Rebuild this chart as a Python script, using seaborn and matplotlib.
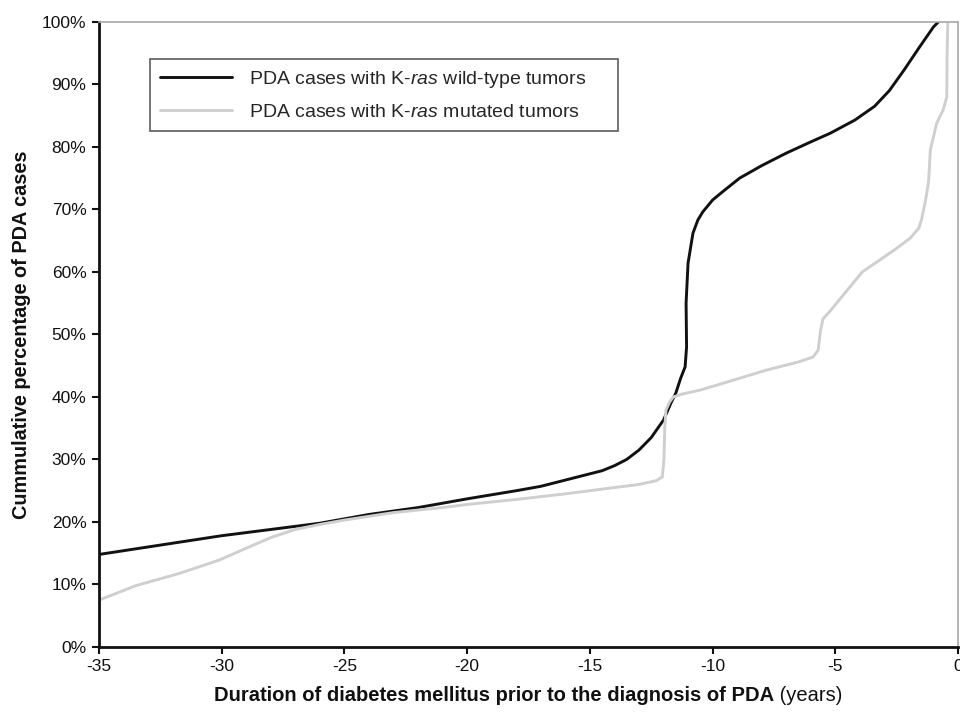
import matplotlib
matplotlib.use("Agg")
import matplotlib.pyplot as plt
import seaborn as sns
import pandas as pd
from matplotlib.ticker import PercentFormatter

# ---- data ----
wild_x = [-35, -33, -31, -30, -28, -26, -24, -22, -20, -18, -17, -16, -15, -14.5, -14, -13.5,
          -13, -12.5, -12, -11.7, -11.5, -11.3, -11.12, -11.06, -11.08, -11.0, -10.8, -10.6,
          -10.4, -10.0, -9.6, -8.9, -8, -7, -6, -5.2, -4.2, -3.4, -2.8, -2.2, -1.6, -1.0, -0.8]
wild_y = [14.8, 16.0, 17.2, 17.8, 18.8, 19.8, 21.2, 22.3, 23.7, 25.0, 25.7, 26.7, 27.7, 28.2,
          29.0, 30.0, 31.5, 33.5, 36.3, 39.0, 40.6, 43.0, 44.8, 48.0, 55.0, 61.4, 66.2, 68.3,
          69.6, 71.5, 72.8, 75.0, 77.0, 79.0, 80.8, 82.2, 84.3, 86.5, 89.0, 92.3, 95.8, 99.2, 100]

mut_x = [-35, -33.5, -31.7, -30.1, -29, -28, -27, -26, -25, -23, -21, -20, -18, -16, -15, -14,
         -13, -12.3, -12.05, -11.98, -11.95, -11.9, -11.75, -11.6, -11.2, -10.5, -9.4, -7.8,
         -6.5, -5.9, -5.7, -5.6, -5.5, -5.2, -4.7, -3.9, -2.6, -1.95, -1.6, -1.48, -1.3, -1.2,
         -1.13, -0.87, -0.6, -0.46, -0.45, -0.42]
mut_y = [7.5, 9.8, 11.8, 13.9, 15.8, 17.5, 18.8, 19.6, 20.3, 21.5, 22.3, 22.8, 23.6, 24.5, 25.0,
         25.5, 26.0, 26.6, 27.2, 30, 35, 37.9, 39.2, 40.0, 40.5, 41.1, 42.4, 44.3, 45.6, 46.4,
         47.5, 50.7, 52.5, 53.8, 56.2, 60.0, 63.5, 65.4, 67, 68.5, 72, 74.5, 79.5, 83.8, 86,
         88, 94, 100]

label_wild = r"PDA cases with K-$\mathit{ras}$ wild-type tumors"
label_mut = r"PDA cases with K-$\mathit{ras}$ mutated tumors"

x_ticks = [-35, -30, -25, -20, -15, -10, -5, 0]
y_ticks = [0, 10, 20, 30, 40, 50, 60, 70, 80, 90, 100]

sns.set_theme(style="white")
plt.rcParams["font.family"] = ["Liberation Sans", "DejaVu Sans"]
plt.rcParams["mathtext.fontset"] = "custom"
plt.rcParams["mathtext.rm"] = "Liberation Sans"
plt.rcParams["mathtext.it"] = "Liberation Sans:italic"

fig = plt.figure(figsize=(9.6, 7.12), dpi=100)
ax = fig.add_axes([0.103, 0.0913, 0.895, 0.878])

df_w = pd.DataFrame({"x": wild_x, "y": wild_y})
df_m = pd.DataFrame({"x": mut_x, "y": mut_y})
sns.lineplot(data=df_w, x="x", y="y", ax=ax, color="#111111", lw=2.1, sort=False,
             estimator=None, label=label_wild)
sns.lineplot(data=df_m, x="x", y="y", ax=ax, color="#cfcfcf", lw=2.1, sort=False,
             estimator=None, label=label_mut)

ax.set_xlim(-35, 0)
ax.set_ylim(0, 100)
ax.set_xticks(x_ticks)
ax.set_xticklabels([str(t) for t in x_ticks])
ax.set_yticks(y_ticks)
ax.yaxis.set_major_formatter(PercentFormatter(decimals=0))
ax.tick_params(axis="both", which="major", labelsize=12.5, colors="#111111",
               length=5, width=1.5, direction="out", bottom=True, left=True,
               top=False, right=False, pad=4)

for s in ["left", "bottom"]:
    ax.spines[s].set_color("#111111")
    ax.spines[s].set_linewidth(2)
for s in ["top", "right"]:
    ax.spines[s].set_color("#a8a8a8")
    ax.spines[s].set_linewidth(1.2)

ax.set_xlabel("")
ax.set_ylabel("Cummulative percentage of PDA cases", fontsize=14.3, fontweight="bold",
              labelpad=8, color="#111111")

leg = ax.legend(loc="upper left", bbox_to_anchor=(0.0594, 0.0, 0.5448, 0.9408),
                mode="expand", fontsize=14,
                frameon=True, fancybox=False, edgecolor="#333333", handlelength=3.7,
                handletextpad=0.9, borderpad=0.5, labelspacing=0.72, borderaxespad=0)
leg.get_frame().set_linewidth(1.2)

# x label: bold part + normal "(years)", centered on axes
t1 = fig.text(0, 0.015, "Duration of diabetes mellitus prior to the diagnosis of PDA",
              fontsize=14.5, fontweight="bold", ha="left", va="baseline", color="#111111")
t2 = fig.text(0, 0.015, " (years)", fontsize=14.5, ha="left", va="baseline", color="#111111")
fig.canvas.draw()
r = fig.canvas.get_renderer()
w1 = t1.get_window_extent(r).width / fig.bbox.width
w2 = t2.get_window_extent(r).width / fig.bbox.width
cx = 0.103 + 0.895 / 2
x0 = cx - (w1 + w2) / 2
t1.set_x(x0)
t2.set_x(x0 + w1)

fig.savefig("out.png", dpi=100)
